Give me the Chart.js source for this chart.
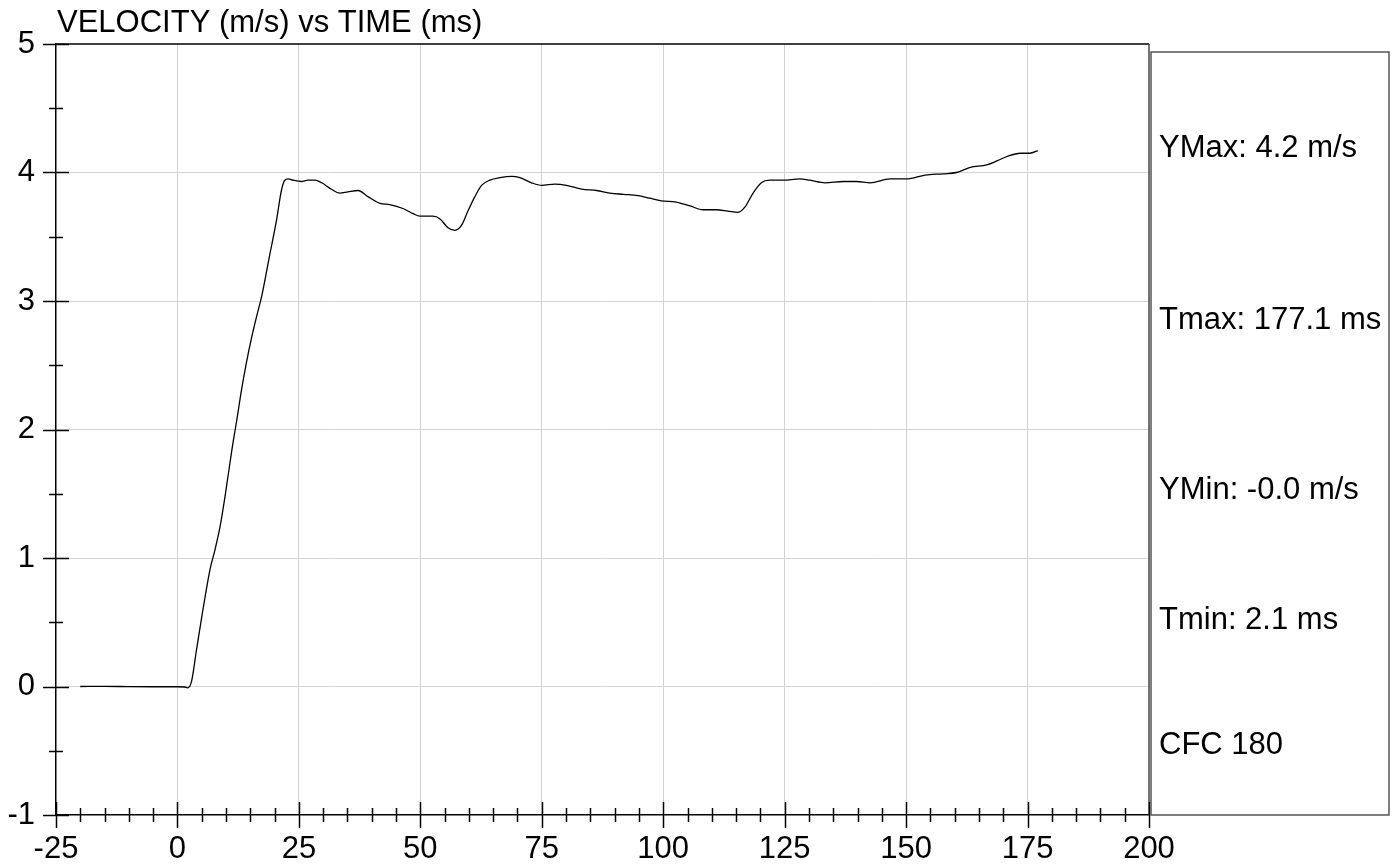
<!DOCTYPE html>
<html>
<head>
<meta charset="utf-8">
<script src="https://cdn.jsdelivr.net/npm/chart.js@4/dist/chart.umd.min.js"></script>
<style>
  html, body { margin: 0; padding: 0; background: #fff; }
  canvas { display: block; }
</style>
</head>
<body>
<canvas id="velChart" width="1397" height="867"></canvas>
<script>
// velocity trace
const timeMs = [-20, -15, -10, -5, 0, 1.5, 2.1, 2.9, 3.9, 5.0,
  5.7, 6.7, 7.7, 8.75, 9.8, 11.2, 12.2, 13.2, 14.2, 15.3,
  16.3, 17.3, 18.4, 19.0, 20.4, 21.4, 22.1, 22.8, 23.8, 25.5,
  26.9, 28.3, 29.7, 31.7, 33.4, 35.1, 37.2, 39.3, 41.7, 43.7,
  46.4, 48.5, 49.9, 52.6, 54.0, 55.7, 57.1, 58.5, 59.8, 61.2,
  62.6, 64.3, 66.4, 68.8, 70.5, 72.9, 75.0, 77.7, 80.1, 83.2,
  86.3, 89.0, 91.8, 94.8, 97.2, 99.6, 102.7, 105.5, 108.2, 110.9,
  113.3, 115.4, 116.8, 118.5, 120.2, 121.9, 124.7, 128.1, 130.2, 133.3,
  137.1, 139.8, 142.6, 146.7, 150.1, 153.9, 157.7, 160.4, 163.2, 166.6,
  168.7, 171.1, 173.5, 175.5, 177.1];
const velocity = [0, 0.001, -0.001, -0.002, -0.002, -0.004, -0.01, 0.04, 0.28, 0.54,
  0.70, 0.91, 1.06, 1.24, 1.48, 1.84, 2.07, 2.31, 2.52, 2.72,
  2.88, 3.03, 3.24, 3.36, 3.63, 3.86, 3.94, 3.95, 3.94, 3.93,
  3.94, 3.94, 3.92, 3.87, 3.84, 3.85, 3.86, 3.81, 3.76, 3.75,
  3.72, 3.68, 3.66, 3.66, 3.64, 3.57, 3.55, 3.59, 3.70, 3.81,
  3.90, 3.94, 3.96, 3.97, 3.96, 3.92, 3.90, 3.91, 3.90, 3.87,
  3.86, 3.84, 3.83, 3.82, 3.80, 3.78, 3.77, 3.74, 3.71, 3.71,
  3.70, 3.69, 3.73, 3.84, 3.92, 3.94, 3.94, 3.95, 3.94, 3.92,
  3.93, 3.93, 3.92, 3.95, 3.95, 3.98, 3.99, 4.00, 4.04, 4.06,
  4.09, 4.13, 4.15, 4.15, 4.17];

const xTicks = [-25, 0, 25, 50, 75, 100, 125, 150, 175, 200];
const yTicks = [-1, 0, 1, 2, 3, 4, 5];
const chartTitle = 'VELOCITY (m/s) vs TIME (ms)';
const infoLines = ['YMax: 4.2 m/s', 'Tmax: 177.1 ms', 'YMin: -0.0 m/s', 'Tmin: 2.1 ms', 'CFC 180'];

const FAMILY = '"Liberation Sans", Arial, sans-serif';
const FONT = '31px ' + FAMILY;

// axis ticks crossing the axes, top/right border, title and info box
const decorPlugin = {
  id: 'decor',
  afterDraw(chart) {
    const ctx = chart.ctx;
    const a = chart.chartArea;
    const xs = chart.scales.x;
    const ys = chart.scales.y;
    ctx.save();

    // top border
    ctx.strokeStyle = '#000';
    ctx.lineWidth = 1.5;
    ctx.beginPath();
    ctx.moveTo(a.left, a.top);
    ctx.lineTo(a.right, a.top);
    ctx.stroke();
    // right border
    ctx.strokeStyle = '#444';
    ctx.lineWidth = 1.5;
    ctx.beginPath();
    ctx.moveTo(a.right, a.top);
    ctx.lineTo(a.right, a.bottom);
    ctx.stroke();

    ctx.strokeStyle = '#000';
    ctx.lineWidth = 1.5;
    // x ticks, every 5 ms
    for (let t = -25; t <= 200; t += 5) {
      const px = Math.round(xs.getPixelForValue(t)) + 0.5;
      const len = (t % 25 === 0) ? 13 : 7;
      ctx.beginPath();
      ctx.moveTo(px, a.bottom - len);
      ctx.lineTo(px, a.bottom + len);
      ctx.stroke();
    }
    // y ticks, every 0.5
    for (let v = -1; v <= 5; v += 0.5) {
      const py = Math.round(ys.getPixelForValue(v)) + 0.5;
      const len = (v % 1 === 0) ? 13 : 7;
      ctx.beginPath();
      ctx.moveTo(a.left - len, py);
      ctx.lineTo(a.left + len, py);
      ctx.stroke();
    }

    // title
    ctx.fillStyle = '#000';
    ctx.font = FONT;
    ctx.textAlign = 'left';
    ctx.textBaseline = 'alphabetic';
    ctx.fillText(chartTitle, 57, 32);

    // info box
    const bx = a.right + 2, by = 52, bw = 1389 - bx, bh = a.bottom - by;
    ctx.strokeStyle = '#555';
    ctx.lineWidth = 1.5;
    ctx.strokeRect(bx, by, bw, bh);
    const lineY = [148, 320, 490, 620, 745];
    ctx.textBaseline = 'middle';
    infoLines.forEach((s, i) => ctx.fillText(s, 1159, lineY[i]));

    ctx.restore();
  }
};

const ctx = document.getElementById('velChart').getContext('2d');
new Chart(ctx, {
  type: 'line',
  data: {
    datasets: [{
      data: timeMs.map((t, i) => ({ x: t, y: velocity[i] })),
      borderColor: '#000',
      borderWidth: 1.3,
      pointRadius: 0,
      fill: false,
      cubicInterpolationMode: 'monotone'
    }]
  },
  options: {
    responsive: false,
    animation: false,
    devicePixelRatio: 1,
    layout: { padding: { top: 44, right: 248, left: 0, bottom: 0 } },
    plugins: { legend: { display: false }, tooltip: { enabled: false } },
    scales: {
      x: {
        type: 'linear',
        min: -25,
        max: 200,
        afterBuildTicks: (s) => { s.ticks = xTicks.map(v => ({ value: v })); },
        afterFit: (s) => { s.height = 52; },
        grid: {
          color: (c) => (c.tick && (c.tick.value === -25 || c.tick.value === 200)) ? 'rgba(0,0,0,0)' : '#d3d3d3',
          lineWidth: 1,
          drawTicks: false
        },
        border: { color: '#000', width: 1.5 },
        ticks: {
          color: '#000',
          font: { family: FAMILY, size: 31 },
          padding: 16,
          maxRotation: 0,
          autoSkip: false
        }
      },
      y: {
        type: 'linear',
        min: -1,
        max: 5,
        afterBuildTicks: (s) => { s.ticks = yTicks.map(v => ({ value: v })); },
        afterFit: (s) => { s.width = 56; },
        grid: {
          color: (c) => (c.tick && (c.tick.value === -1 || c.tick.value === 5)) ? 'rgba(0,0,0,0)' : '#d3d3d3',
          lineWidth: 1,
          drawTicks: false
        },
        border: { color: '#000', width: 1.5 },
        ticks: {
          color: '#000',
          font: { family: FAMILY, size: 31 },
          padding: 21,
          autoSkip: false
        }
      }
    }
  },
  plugins: [decorPlugin]
});
</script>
</body>
</html>
